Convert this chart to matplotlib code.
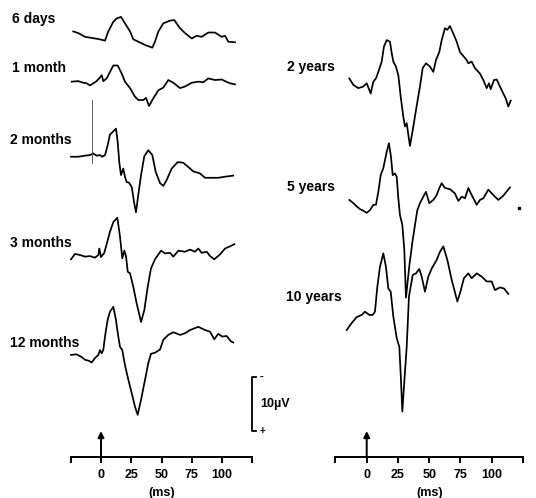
import matplotlib
matplotlib.use("Agg")
import matplotlib.pyplot as plt

plt.rcParams["font.family"] = ["Liberation Sans", "DejaVu Sans"]

# --- traces: time (ms), amplitude (uV, up = negative polarity) ---
t_6d = [-22.9, -18.8, -13.2, -7.7, -2.2, 3.3, 6.0, 10.2, 13.0, 16.5, 19.8, 24.0, 26.7, 30.8,
        36.4, 42.4, 44.6, 47.4, 51.5, 57.0, 60.6, 65.3, 69.4, 75.0, 79.1, 83.2, 88.7, 94.2,
        99.8, 102.5, 105.2, 110.7]
v_6d = [0.1, -0.2, -0.9, -1.1, -1.3, -1.6, 0.1, 1.9, 2.5, 2.8, 1.6, 0.1, -1.35, -1.8,
        -2.4, -2.9, -1.8, 0.1, 1.6, 2.1, 2.2, 0.7, -0.2, -1.2, -0.7, -0.9, -0.1, -0.1,
        -0.9, -0.7, -1.8, -1.9]

t_1m = [-24.2, -18.8, -14.6, -11.8, -9.1, -6.4, -3.6, -0.8, 0.6, 1.9, 4.7, 7.4, 10.2, 13.8,
        17.1, 19.8, 24.0, 28.1, 30.8, 35.0, 37.2, 39.7, 43.2, 47.4, 51.5, 55.6, 59.8, 65.3,
        69.4, 75.0, 80.4, 84.5, 88.7, 94.2, 99.8, 102.5, 106.6, 110.7]
v_1m = [0.1, 0.2, -0.1, -0.2, -0.6, -0.2, 0.2, 0.9, 1.3, 0.2, 0.7, 1.9, 3.1, 3.1,
        1.6, 0.1, -1.1, -2.7, -3.3, -3.3, -2.9, -4.4, -3.0, -1.5, -1.0, 0.4, -0.1, -1.1,
        -0.8, -0.1, 0.1, 0.0, 0.7, 0.4, 0.5, 0.2, -0.2, -0.4]

t_2m = [-24.8, -18.8, -13.2, -9.1, -6.4, -3.6, -0.8, 1.1, 3.3, 5.5, 7.4, 10.2, 12.4, 13.8,
        15.1, 16.5, 18.4, 19.8, 21.2, 23.1, 25.4, 27.3, 28.9, 30.8, 33.1, 35.8, 39.1, 42.4,
        45.2, 48.8, 51.5, 54.3, 58.4, 63.4, 67.9, 72.1, 76.2, 81.8, 86.0, 91.5, 96.9, 102.5,
        109.3]
v_2m = [-0.1, -0.1, 0.1, 0.2, 0.5, 0.1, 0.2, -0.1, 0.2, 2.0, 4.0, 4.6, 5.1, 2.6,
        -1.1, -3.5, -2.3, -3.8, -4.8, -4.9, -5.7, -8.5, -10.4, -7.2, -3.5, 0.0, 1.1, 0.2,
        -2.9, -5.0, -5.5, -4.4, -2.3, -1.1, -1.2, -2.0, -2.8, -3.2, -4.0, -4.0, -4.0, -3.8,
        -3.6]

t_3m = [-24.8, -21.5, -17.4, -13.2, -9.1, -5.0, -2.2, -1.4, 0.0, 2.7, 5.5, 7.4, 10.2, 13.5,
        15.7, 17.6, 19.3, 20.7, 22.1, 24.0, 26.7, 29.5, 33.1, 35.8, 38.6, 41.3, 44.6, 49.6,
        52.9, 57.0, 59.8, 63.9, 69.4, 73.6, 77.7, 80.4, 83.2, 87.4, 90.1, 93.6, 98.3, 102.5,
        106.6, 110.2]
v_3m = [-0.4, 0.6, 0.4, 0.1, 0.2, -0.1, 0.4, 1.6, 0.0, 0.8, 3.1, 4.7, 6.5, 7.3,
        3.8, -0.2, 1.2, 0.1, -2.7, -3.0, -5.5, -8.6, -12.0, -9.8, -5.5, -2.1, -0.4, 1.2,
        0.7, 0.8, 0.1, 1.2, 1.0, 1.4, 1.0, 1.6, 0.8, 1.0, 0.2, -0.4, 0.5, 1.6,
        2.0, 2.4]

t_12m = [-24.8, -20.1, -16.0, -13.2, -9.9, -7.7, -5.0, -2.2, -0.8, 0.6, 1.9, 3.3, 5.5, 7.4,
         10.2, 12.1, 14.3, 15.7, 17.6, 19.8, 22.6, 25.4, 28.1, 30.3, 33.1, 36.4, 39.1, 41.3,
         44.6, 48.8, 51.5, 55.6, 59.8, 65.3, 69.4, 73.6, 80.4, 86.0, 90.1, 93.6, 96.9, 100.2,
         103.9, 107.4, 109.3]
v_12m = [0.0, 0.1, -0.4, -0.9, -1.1, -1.4, -0.6, 0.0, 0.9, 0.3, 0.9, 3.4, 6.5, 8.0,
         8.9, 6.8, 3.4, 1.5, 0.9, -1.9, -4.6, -7.1, -9.6, -11.1, -8.3, -4.6, -1.5, 0.2,
         0.4, 1.0, 2.8, 3.7, 4.2, 3.7, 4.0, 4.6, 5.2, 4.6, 4.3, 2.9, 3.9, 3.4,
         3.5, 2.5, 2.3]

t_2y = [-13.9, -10.7, -6.7, -2.7, 0.0, 3.2, 5.3, 7.4, 9.3, 12.0, 13.8, 16.0, 18.6, 20.0,
        21.3, 23.4, 25.3, 27.2, 29.3, 30.6, 32.0, 34.6, 36.8, 39.4, 42.6, 44.8, 47.4, 50.6,
        53.3, 55.4, 58.1, 60.0, 62.6, 64.5, 66.6, 69.3, 72.0, 74.6, 77.8, 80.0, 81.3, 84.0,
        86.6, 90.6, 93.3, 96.0, 97.8, 99.2, 101.8, 104.0, 106.6, 109.3, 111.2, 113.3, 115.2]
v_2y = [0.3, -0.9, -1.5, -1.2, -0.6, -2.5, -0.3, 0.3, 1.5, 3.4, 6.2, 7.4, 7.1, 5.0,
        3.4, 2.5, 0.9, -3.1, -6.8, -8.6, -8.0, -12.2, -9.3, -5.6, -1.2, 2.2, 3.1, 2.5,
        1.5, 3.7, 5.2, 7.4, 9.6, 9.3, 10.0, 8.6, 7.1, 5.2, 4.3, 3.7, 3.1, 3.4,
        2.2, 1.2, 0.0, -1.5, -0.6, -1.7, 0.0, 0.1, -1.2, -2.5, -3.4, -4.9, -3.8]

t_5y = [-13.9, -10.7, -8.0, -5.4, -2.7, 0.0, 2.6, 5.3, 7.4, 9.3, 11.2, 13.3, 16.0, 17.8,
        19.4, 20.8, 22.6, 24.0, 25.3, 26.6, 28.5, 30.1, 31.4, 34.2, 36.8, 39.0, 40.5, 42.6,
        45.3, 47.4, 50.1, 53.3, 56.0, 58.1, 60.0, 62.6, 66.6, 70.6, 73.3, 76.0, 78.6, 81.3,
        84.0, 88.0, 90.6, 93.3, 97.3, 101.3, 105.3, 109.3, 114.6]
v_5y = [0.0, -0.6, -1.2, -1.7, -2.0, -2.4, -1.9, -0.9, -0.9, 1.5, 4.6, 5.9, 8.9, 10.5,
        8.0, 4.6, 4.9, 4.3, 0.3, -2.8, -4.6, -9.3, -18.1, -12.0, -7.4, -4.1, -1.9, -0.6,
        0.6, 1.5, -0.6, 0.0, 0.9, 2.2, 3.1, 2.2, 2.0, 1.2, -0.2, 0.6, 0.3, 2.2,
        0.9, -0.9, 0.0, 0.3, 1.9, 0.9, 0.0, 0.8, 2.3]

t_10y = [-16.0, -12.0, -8.0, -4.0, -1.4, 2.1, 4.8, 6.6, 8.5, 10.6, 13.3, 15.4, 17.3, 19.2,
         21.3, 24.0, 26.1, 27.4, 28.5, 29.8, 32.0, 33.8, 36.8, 39.4, 42.1, 44.0, 46.6, 49.3,
         52.0, 56.0, 58.6, 61.3, 64.5, 68.0, 72.5, 74.6, 77.8, 81.3, 84.0, 88.0, 92.0, 96.0,
         100.0, 102.6, 106.6, 109.8, 113.3]
v_10y = [-2.8, -1.5, -0.4, 0.0, 0.6, 0.0, 0.0, 0.6, 5.2, 8.9, 11.4, 8.9, 4.9, 4.3,
         -0.3, -4.3, -5.9, -12.0, -17.9, -13.3, -5.9, 3.4, 7.4, 7.7, 8.5, 7.1, 4.3, 7.1,
         8.6, 10.2, 11.7, 12.7, 10.2, 6.5, 2.5, 4.0, 6.8, 7.7, 6.8, 7.7, 7.1, 6.2,
         6.2, 4.6, 5.1, 4.9, 3.9]

# stimulus artefact on the 2 month record (uV)
artefact_t = -7.7
artefact_v = [-1.3, 10.4]

labels_left = ["6 days", "1 month", "2 months", "3 months", "12 months"]
labels_right = ["2 years", "5 years", "10 years"]
tick_values = [-25, 0, 25, 50, 75, 100, 125]
tick_labels = ["", "0", "25", "50", "75", "100", ""]
scale_uv = 10

# layout (figure is 536 x 498 px, 5.4 px per uV)
W, H = 536, 498
PX_UV = 5.4
left_traces = [(t_6d, v_6d, 86.3), (t_1m, v_1m, 77.0), (t_2m, v_2m, 63.3),
               (t_3m, v_3m, 44.6), (t_12m, v_12m, 26.5)]
right_traces = [(t_2y, v_2y, 77.4), (t_5y, v_5y, 55.2), (t_10y, v_10y, 33.9)]
left_label_pos = [(12, 19), (12, 68), (10, 140), (10, 243), (10, 343)]
right_label_pos = [(287, 67), (287, 187), (286, 297)]
axis_y = 7.6

fig = plt.figure(figsize=(W / 100, H / 100), dpi=100)
ax_l = fig.add_axes([0, 0, 0.5, 1])
ax_r = fig.add_axes([0.5, 0, 0.5, 1])
ax_l.set_xlim(-101 / 1.21, (268 - 101) / 1.21)
ax_r.set_xlim((268 - 366.7) / 1.25, (536 - 366.7) / 1.25)

for ax, traces in [(ax_l, left_traces), (ax_r, right_traces)]:
    ax.set_ylim(0, H / PX_UV)
    ax.patch.set_alpha(0)
    for t, v, off in traces:
        ax.plot(t, [x + off for x in v], color="black", lw=1.25, solid_joinstyle="round")
    for s in ["top", "left", "right"]:
        ax.spines[s].set_visible(False)
    ax.spines["bottom"].set_position(("data", axis_y))
    ax.spines["bottom"].set_bounds(-25, 125)
    ax.spines["bottom"].set_linewidth(1.4)
    ax.set_xticks(tick_values)
    ax.set_xticklabels(tick_labels, fontsize=9, fontweight="bold")
    ax.tick_params(axis="x", direction="out", length=4, width=1.4, pad=5)
    ax.set_yticks([])
    ax.annotate("", xy=(0, axis_y + 4.8), xytext=(0, axis_y),
                arrowprops=dict(arrowstyle="-|>", color="black", lw=1.4,
                                mutation_scale=9, shrinkA=0, shrinkB=0))
    ax.text(50, 0.9, "(ms)", ha="center", va="center", fontsize=9, fontweight="bold")

# 2 month artefact line
ax_l.plot([artefact_t, artefact_t], [x + 63.3 for x in artefact_v], color="#444444", lw=0.6)

# stray speck on the 5 year record
ax_r.plot([122.1], [-1.5 + 55.2], "s", color="black", ms=2)

# calibration bar
bar_x = 124.8
bar_y0 = 12.4
ax_l.plot([bar_x + 3, bar_x, bar_x, bar_x + 3],
          [bar_y0, bar_y0, bar_y0 + scale_uv, bar_y0 + scale_uv],
          color="black", lw=1.3, clip_on=False)
ax_l.text(bar_x + 6.5, bar_y0 + scale_uv, "-", fontsize=8, fontweight="bold",
          ha="left", va="center")
ax_l.text(bar_x + 6.5, bar_y0, "+", fontsize=7, fontweight="bold", ha="left", va="center")
ax_l.text(bar_x + 6.5, bar_y0 + scale_uv / 2, "10\u00b5V", fontsize=9, fontweight="bold",
          ha="left", va="center")

for lab, (x, y) in zip(labels_left + labels_right, left_label_pos + right_label_pos):
    fig.text(x / W, 1 - y / H, lab, fontsize=10, fontweight="bold", ha="left", va="center")

fig.savefig("out.png", dpi=100)
